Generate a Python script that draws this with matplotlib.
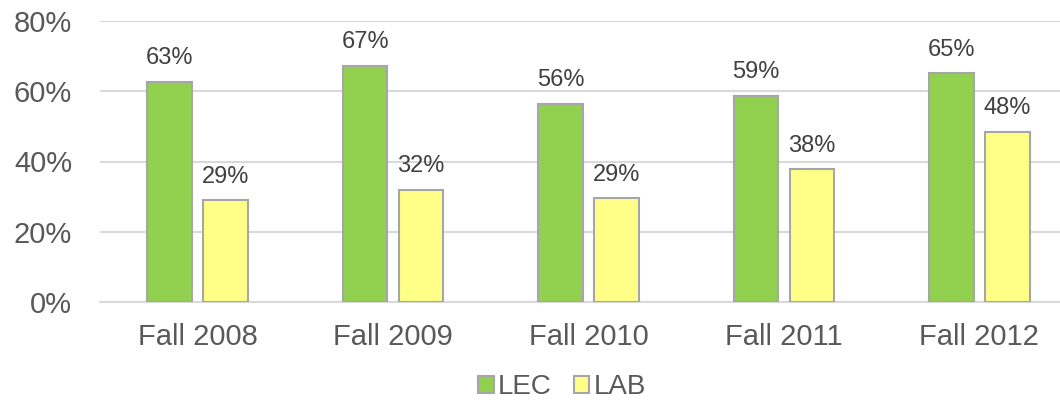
import numpy as np
import matplotlib.pyplot as plt
from matplotlib.ticker import PercentFormatter

# Chart data
terms = ['Fall 2008', 'Fall 2009', 'Fall 2010', 'Fall 2011', 'Fall 2012']
lec = [0.627, 0.673, 0.565, 0.587, 0.651]
lab = [0.289, 0.320, 0.295, 0.378, 0.485]
lec_labels = ['63%', '67%', '56%', '59%', '65%']
lab_labels = ['29%', '32%', '29%', '38%', '48%']

plt.rcParams['font.family'] = ['Liberation Sans', 'DejaVu Sans']

fig = plt.figure(figsize=(10.6, 4.07), dpi=100)
# plot area runs a bit past the right edge of the image, as in the reference
ax = fig.add_axes([100 / 1060, 1 - 302 / 407, 977 / 1060, 281 / 407])

x = np.arange(len(terms))
width = 0.228
off = 0.143

bars_lec = ax.bar(x - off, lec, width, color='#92d050', edgecolor='#a6a6a6',
                  linewidth=1.5, label='LEC', zorder=3)
bars_lab = ax.bar(x + off, lab, width, color='#ffff88', edgecolor='#a6a6a6',
                  linewidth=1.5, label='LAB', zorder=3)

for bars, labels in [(bars_lec, lec_labels), (bars_lab, lab_labels)]:
    for b, txt in zip(bars, labels):
        ax.annotate(txt, (b.get_x() + b.get_width() / 2, b.get_height()),
                    xytext=(0, 9), textcoords='offset points',
                    ha='center', va='bottom', fontsize=17, color='#404040')

ax.set_xlim(-0.5, len(terms) - 0.5)
ax.set_ylim(0, 0.8)
ax.set_yticks([0, 0.2, 0.4, 0.6, 0.8])
ax.yaxis.set_major_formatter(PercentFormatter(1.0, decimals=0))
ax.set_xticks(x)
ax.set_xticklabels(terms)
ax.tick_params(axis='both', length=0, labelsize=21, colors='#595959')
ax.tick_params(axis='x', pad=15)
ax.tick_params(axis='y', pad=20)

ax.grid(axis='y', color='#d9d9d9', linewidth=1.5, zorder=0)
for s in ['top', 'right', 'left']:
    ax.spines[s].set_visible(False)
ax.spines['bottom'].set_color('#d9d9d9')
ax.spines['bottom'].set_linewidth(1.5)

fig.legend(loc='center', bbox_to_anchor=(562 / 1060, 1 - 387 / 407), ncol=2,
           frameon=False, fontsize=20, handlelength=0.55, handleheight=0.55,
           handletextpad=0.15, columnspacing=0.8, labelcolor='#595959')

fig.savefig('out.png', dpi=100)
